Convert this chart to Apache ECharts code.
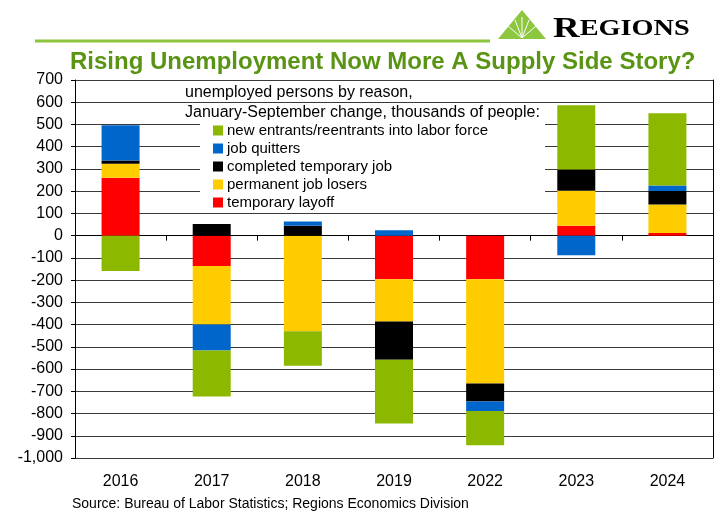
<!DOCTYPE html>
<html><head><meta charset="utf-8">
<script src="https://cdn.jsdelivr.net/npm/echarts@6/dist/echarts.min.js"></script>
<style>html,body{margin:0;padding:0;background:#fff}#c{width:717px;height:512px}</style>
</head><body><div id="c"></div>
<script>
const years = ['2016','2017','2018','2019','2022','2023','2024'];
const temporaryLayoff      = [260, -137,    0, -196, -196,  45,  12];
const permanentJobLosers   = [ 63, -263, -430, -190, -469, 157, 128];
const completedTemporary   = [ 15,   52,   45, -172,  -81,  96,  61];
const jobQuitters          = [159, -116,   19,   24,  -43, -88,  25];
const newEntrants          = [-159, -207, -155, -287, -154, 288, 325];
const seriesNames = ['temporary layoff','permanent job losers','completed temporary job','job quitters','new entrants/reentrants into labor force'];
const seriesColors = ['#FF0000','#FFCC00','#000000','#0066CC','#8CB800'];
const seriesData = [temporaryLayoff, permanentJobLosers, completedTemporary, jobQuitters, newEntrants];
const legendOrder = ['new entrants/reentrants into labor force','job quitters','completed temporary job','permanent job losers','temporary layoff'];

const chart = echarts.init(document.getElementById('c'));
const font = 'Liberation Sans, Arial, sans-serif';
chart.setOption({
  animation:false,
  textStyle:{fontFamily:font},
  grid:{left:75, right:4, top:80, bottom:54},
  legend:{
    data: legendOrder, orient:'vertical', left:208, top:118,
    itemWidth:10, itemHeight:10, itemGap:3, icon:'rect',
    textStyle:{fontSize:15, color:'#000', fontFamily:font, padding:[0,0,0,-1]},
    selectedMode:false, z:5
  },
  xAxis:[
    {type:'category', data:years, position:'bottom',
     axisLine:{onZero:true, lineStyle:{color:'#000', width:1}},
     axisTick:{show:true, length:5, lineStyle:{color:'#000'}},
     axisLabel:{show:false}, splitLine:{show:false}},
    {type:'category', data:years, position:'bottom',
     axisLine:{show:false, onZero:false}, axisTick:{show:false},
     axisLabel:{fontSize:16, color:'#000', margin:16, fontFamily:font}}
  ],
  yAxis:[
    {type:'value', min:-1000, max:700, interval:100,
     axisLine:{show:true, lineStyle:{color:'#000'}},
     axisTick:{show:true, inside:false, length:4, lineStyle:{color:'#000'}},
     axisLabel:{fontSize:16, color:'#000', margin:12, fontFamily:font,
       formatter: v => v.toLocaleString('en-US')},
     splitLine:{show:true, lineStyle:{color:'#3a3a3a', width:1}}},
    {type:'value', min:-1000, max:700, interval:100, position:'right',
     axisLine:{show:true, lineStyle:{color:'#000'}}, axisTick:{show:false},
     axisLabel:{show:false}, splitLine:{show:false}}
  ],
  graphic:[
    {type:'rect', shape:{x:200, y:121, width:345, height:88}, style:{fill:'#fff'}, z:1},
    {type:'text', x:185, y:84.5, z:5, style:{text:'unemployed persons by reason,', font:'16px '+font, fill:'#000'}},
    {type:'text', x:185, y:104.5, z:5, style:{text:'January-September change, thousands of people:', font:'16px '+font, fill:'#000'}},
    {type:'line', shape:{x1:35, y1:41, x2:490, y2:41}, style:{stroke:'#8DC63F', lineWidth:3}},
    {type:'text', x:70, y:50, style:{text:'Rising Unemployment Now More A Supply Side Story?', font:'bold 24px '+font, fill:'#5A9414'}},
    {type:'polygon', shape:{points:[[522,10],[498,39],[546,39]]}, style:{fill:'#8DC63F'}},
    {type:'line', shape:{x1:522, y1:38, x2:508, y2:26}, style:{stroke:'#fff', lineWidth:1}},
    {type:'line', shape:{x1:522, y1:38, x2:515, y2:20}, style:{stroke:'#fff', lineWidth:1}},
    {type:'line', shape:{x1:522, y1:38, x2:522, y2:17}, style:{stroke:'#fff', lineWidth:1}},
    {type:'line', shape:{x1:522, y1:38, x2:529, y2:20}, style:{stroke:'#fff', lineWidth:1}},
    {type:'line', shape:{x1:522, y1:38, x2:536, y2:26}, style:{stroke:'#fff', lineWidth:1}},
    {type:'text', x:553, y:14, scaleX:1.23, style:{text:'{a|R}{b|EGIONS}', rich:{a:{fontSize:30, fontWeight:'bold', fontFamily:'Liberation Serif', color:'#64A02C'}, b:{fontSize:23, fontWeight:'bold', fontFamily:'Liberation Serif', color:'#64A02C'}}}},
    {type:'text', x:72, y:497, style:{text:'Source: Bureau of Labor Statistics; Regions Economics Division', font:'14px '+font, fill:'#000'}}
  ],
  series: seriesData.map((d,i)=>({
    name: seriesNames[i], type:'bar', stack:'total', data:d, barWidth:38,
    xAxisIndex:0, yAxisIndex:0,
    itemStyle:{color:seriesColors[i]}, z:2
  }))
});
</script></body></html>
